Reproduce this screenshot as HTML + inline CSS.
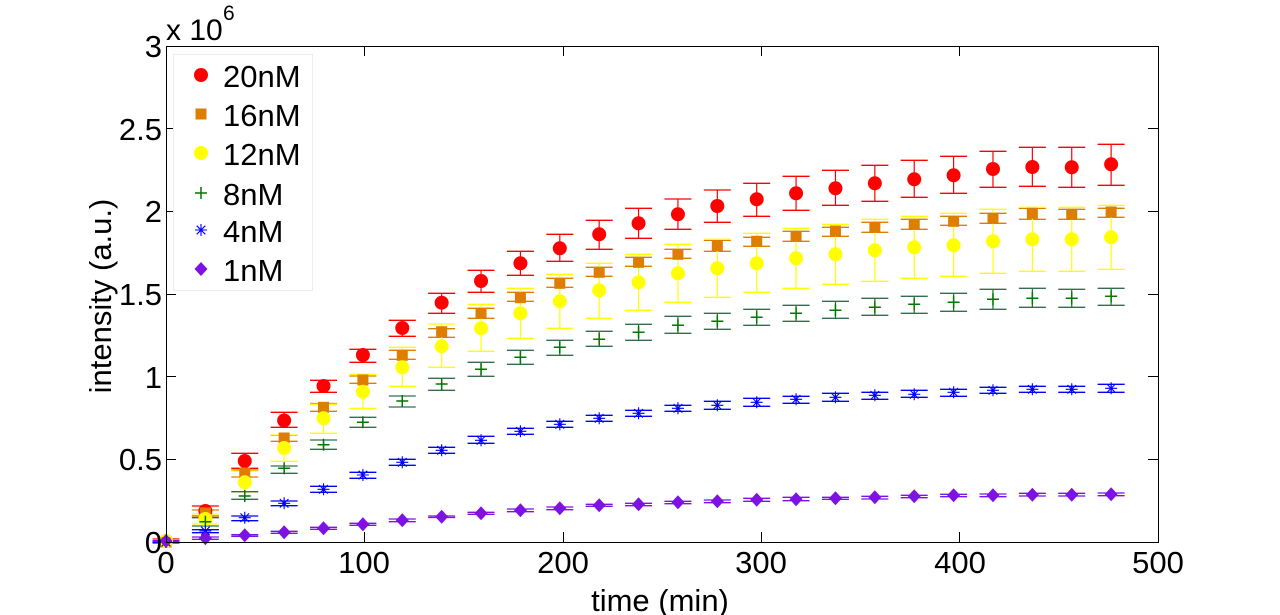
<!DOCTYPE html>
<html><head><meta charset="utf-8">
<style>
html,body{margin:0;padding:0;background:#fff;width:1280px;height:615px;overflow:hidden}
svg{display:block}
text{font-family:"Liberation Sans",Arial,sans-serif;fill:#000}
</style></head>
<body>
<svg id="c" width="1280" height="615" viewBox="0 0 1280 615" xmlns="http://www.w3.org/2000/svg">
<rect x="0" y="0" width="1280" height="615" fill="#fff"/>
<g id="bars"></g>
<g id="plot"></g>
<g id="axes" stroke="#000" stroke-width="1" fill="none" shape-rendering="crispEdges">
<rect x="166.5" y="46.5" width="992" height="496"/>
<path d="M364.5 542V532M563.5 542V532M761.5 542V532M959.5 542V532M364.5 46V56M563.5 46V56M761.5 46V56M959.5 46V56
M166 459.5H176M166 376.5H176M166 294.5H176M166 211.5H176M166 128.5H176
M1158 459.5H1148M1158 376.5H1148M1158 294.5H1148M1158 211.5H1148M1158 128.5H1148"/>
</g>
<g font-size="31" text-anchor="middle">
<text x="166" y="573">0</text>
<text x="364" y="573">100</text>
<text x="563" y="573">200</text>
<text x="761" y="573">300</text>
<text x="960" y="573">400</text>
<text x="1158" y="573">500</text>
</g>
<g font-size="31" text-anchor="end">
<text x="162" y="553">0</text>
<text x="162" y="470">0.5</text>
<text x="162" y="388">1</text>
<text x="162" y="305">1.5</text>
<text x="162" y="222">2</text>
<text x="162" y="140">2.5</text>
<text x="162" y="57">3</text>
</g>
<text x="166" y="40" font-size="30">x 10</text>
<text x="223" y="20" font-size="21">6</text>
<text x="660" y="611" font-size="31" text-anchor="middle">time (min)</text>
<text transform="translate(111,296) rotate(-90)" font-size="31" text-anchor="middle">intensity (a.u.)</text>
<g id="legend">
<rect x="173.5" y="54.5" width="139" height="236" fill="#fff" stroke="#ececec" stroke-width="1"/>
<g font-size="31">
<text x="223" y="87">20nM</text>
<text x="223" y="126">16nM</text>
<text x="223" y="165">12nM</text>
<text x="223" y="205">8nM</text>
<text x="223" y="242">4nM</text>
<text x="223" y="281">1nM</text>
</g>
</g>
</svg>
<script>
(function(){
var NS="http://www.w3.org/2000/svg";
var plot=document.getElementById('plot');
var barsG=document.getElementById('bars');
var leg=document.getElementById('legend');
function el(tag,attrs,parent){var e=document.createElementNS(NS,tag);for(var k in attrs)e.setAttribute(k,attrs[k]);(parent||plot).appendChild(e);return e;}
var red=[[541,539,543],[511,506,516],[461,453.3,468.3],[420.5,412.3,427.3],[386,380.3,392.3],[355,349.3,362.3],[328,320.3,336.3],[302.7,293.3,313.3],[281,270.3,292.3],[263.3,251.3,275.3],[248.3,234.3,261.3],[234.3,220.3,249.3],[223.3,208.3,238.3],[214.3,199,229.3],[206,190,222.3],[199.3,183.3,216.3],[193.3,176.3,210.3],[188.3,170.3,205.3],[183.3,165.3,201.3],[179.3,160.3,197.3],[175.3,156.3,193.3],[169,151.3,187.3],[167,147.3,186.3],[167.3,147.3,187.3],[164.3,144.3,185.3]];
var orange=[[542,540,543],[513,510,516],[473,470,477],[438,435.3,441.3],[407.3,403.5,411.3],[380,376,383.3],[355.3,350.3,359.3],[331.7,328.7,337.3],[313.3,308.3,318.3],[297.7,292.3,301.3],[283.3,278.3,287.3],[272.3,267.3,276.3],[262.3,257.3,266.3],[254.3,249.3,258.3],[245.7,240.3,251.3],[241.3,237.3,246.3],[236.3,231.3,241.3],[231,227.3,236.3],[227.3,222.3,232.3],[224.3,219.3,229.3],[221.3,216.3,225.3],[218.3,213.3,223.3],[213.3,208.3,219.3],[214.3,209.3,219.3],[212,208.3,217.3]];
var yellow=[[541,540,543],[519,514,524],[482.3,471,492],[448,435,461.3],[418.3,404.3,433.3],[391.7,374.3,408.3],[367.3,347.3,386.3],[346.3,324,367.3],[328.3,304.3,351.3],[313.3,288.3,338.3],[301.3,274.3,328.3],[290.3,263.3,318.3],[282.3,254.3,310.3],[273.3,244.3,302.3],[268.3,239.3,297.3],[263.3,233.3,292.3],[258.3,228.3,288.3],[254.3,224.3,284.3],[250.3,219.3,281.3],[247.3,216.3,278.3],[245.3,213.3,276.3],[241.3,209.3,273.3],[239.3,207.3,271.3],[239.3,207.3,271.3],[237.3,205.3,269.3]];
var green=[[542,541,543],[521.7,517.7,526],[496,491.7,499.3],[468.3,466,473.3],[444.7,440,449.3],[422.3,417.3,427.3],[401,396,407],[384,378.3,390.3],[369.3,362.3,376.3],[357.3,350.3,364.3],[347.3,340.3,355.3],[339.3,331.3,346.3],[332.3,324.3,340.3],[325.3,316.3,333.3],[321.3,313.3,329.3],[317.3,309.3,325.3],[313.3,305.3,321.3],[310.3,301.3,318.3],[307.3,298.3,315.3],[304.3,296.3,313.3],[302.3,293.3,311.3],[299.3,289.3,309.3],[298.3,288.3,307.3],[298.3,289.3,307.3],[296.3,288.3,305.3]];
var blue=[[542,541.5,542.5],[531,529.7,532.7],[517.7,516,520.7],[503.3,501,505.7],[489.3,486.3,492.3],[475,472.3,478.3],[462.3,459.3,465.3],[450.3,447.3,453.3],[440.3,436.3,443.3],[431.3,428.3,434.3],[424.3,421.3,427.3],[418.3,415.3,421.3],[413.3,410.3,416.3],[408.3,405.3,411.3],[405.3,401.3,409.3],[402.3,398.3,406.3],[399.3,396.3,403.3],[397.3,393.3,401.3],[395.3,392.3,399.3],[394.3,390.3,397.3],[392.3,389.3,396.3],[390.3,387.3,393.3],[389.3,386.3,392.3],[389.3,386.3,392.3],[388.3,384.3,392.3]];
var purple=[[541,540.5,541.5],[538.3,537,539.3],[535.3,534.7,536.3],[532.3,531.3,533.3],[528.3,527.3,529.3],[524.3,523.3,525.3],[520.3,519,521.7],[516.7,516,517.5],[513.3,512.3,514.3],[510.3,509,511.7],[508.3,507,509.7],[505.3,504.3,506.3],[504.3,503.3,505.7],[502.3,501.3,503.7],[501.3,500,502.7],[499.7,498.3,501.3],[499.3,497.3,500.7],[498.3,497.3,499.3],[497.3,496.3,499],[496.3,495.3,497.7],[495.3,494.3,496.7],[495.3,494,496.7],[494.7,493.3,496],[494.7,493.3,496],[494.3,493,495.7]];
function X(i){return 166+i*39.38;}
var C={red:'#ff0000',orange:'#de7d00',yellow:'#ffff00',green:'#0a7a0a',gcap:'#336d4d',blue:'#0000ff',purple:'#7d12e3'};
function bars(data,vcol,ccol){
  var d='',c='';
  for(var i=0;i<data.length;i++){
    var x=X(i),t=data[i][1],b=data[i][2];
    d+='M'+x+' '+t+'V'+b;
    c+='M'+(x-13.5)+' '+t+'h27M'+(x-13.5)+' '+b+'h27';
  }
  el('path',{d:d,stroke:vcol,'stroke-width':1.2,fill:'none'},barsG);
  el('path',{d:c,stroke:ccol,'stroke-width':1.3,fill:'none'},barsG);
}
function circle(x,y,col,p){el('circle',{cx:x,cy:y,r:7,fill:col},p);}
function square(x,y,col,p){el('rect',{x:x-5.5,y:y-5.5,width:11,height:11,fill:col},p);}
function plus(x,y,col,p){el('path',{d:'M'+(x-6)+' '+y+'h12M'+x+' '+(y-6)+'v12',stroke:col,'stroke-width':1.5,fill:'none'},p);}
function star(x,y,col,p){var a=4.3;el('path',{d:'M'+(x-6)+' '+y+'h12M'+x+' '+(y-6)+'v12M'+(x-a)+' '+(y-a)+'L'+(x+a)+' '+(y+a)+'M'+(x-a)+' '+(y+a)+'L'+(x+a)+' '+(y-a),stroke:col,'stroke-width':1.1,fill:'none'},p);el('circle',{cx:x,cy:y,r:1.6,fill:col},p);}
function diamond(x,y,col,p){el('path',{d:'M'+x+' '+(y-7)+'L'+(x+6.5)+' '+y+'L'+x+' '+(y+7)+'L'+(x-6.5)+' '+y+'Z',fill:col},p);}
function series(data,vcol,ccol,mk,mcol){
  bars(data,vcol,ccol);
  for(var i=0;i<data.length;i++)mk(X(i),data[i][0],mcol);
}
series(red,C.red,C.red,circle,C.red);
series(orange,C.orange,C.orange,square,C.orange);
series(yellow,C.yellow,C.yellow,circle,C.yellow);
series(green,C.green,C.gcap,plus,'#007700');
series(blue,C.blue,C.blue,star,C.blue);
series(purple,C.purple,C.purple,diamond,C.purple);
circle(201,75,C.red,leg);
square(201,114,C.orange,leg);
circle(201,153,C.yellow,leg);
plus(201,193,'#007700',leg);
star(201,230,C.blue,leg);
diamond(201,269,C.purple,leg);
})();
</script>
</body></html>
